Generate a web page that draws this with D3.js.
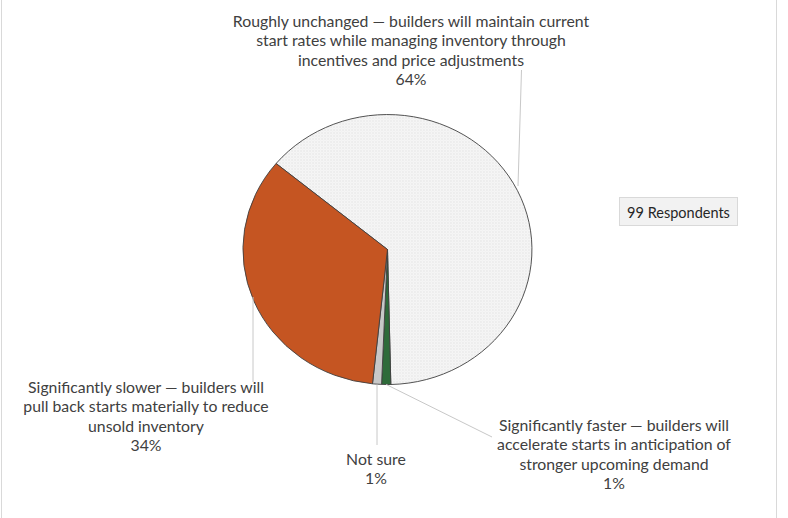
<!DOCTYPE html>
<html>
<head>
<meta charset="utf-8">
<script src="https://cdn.jsdelivr.net/npm/d3@7"></script>
<style>
  html, body { margin: 0; padding: 0; background: #ffffff; }
  svg { display: block; }
</style>
</head>
<body>
<svg id="chart" width="788" height="518"></svg>
<script>
// ---- Data ----
const categories = [
  "Roughly unchanged — builders will maintain current start rates while managing inventory through incentives and price adjustments",
  "Significantly faster — builders will accelerate starts in anticipation of stronger upcoming demand",
  "Not sure",
  "Significantly slower — builders will pull back starts materially to reduce unsold inventory"
];
const counts = [63, 1, 1, 34];
const percentLabels = ["64%", "1%", "1%", "34%"];
const labelLines = [
  ["Roughly unchanged — builders will maintain current", "start rates while managing inventory through", "incentives and price adjustments"],
  ["Significantly faster — builders will", "accelerate starts in anticipation of", "stronger upcoming demand"],
  ["Not sure"],
  ["Significantly slower — builders will", "pull back starts materially to reduce", "unsold inventory"]
];
const respondentsNote = "99 Respondents";

// ---- Layout ----
const svg = d3.select("#chart");
const cx = 387.5, cy = 249.5, rx = 144.5, ry = 135;
const colors = ["url(#dots)", "#2e6b3a", "#c8c8c8", "#c55522"];
const textColor = "#404040";
const fontFamily = "Lato, 'Open Sans', sans-serif";

// chart frame (left/right edges)
svg.append("line").attr("x1", 1.5).attr("x2", 1.5).attr("y1", 0).attr("y2", 518)
  .attr("stroke", "#d9d9d9").attr("stroke-width", 1);
svg.append("line").attr("x1", 776.5).attr("x2", 776.5).attr("y1", 0).attr("y2", 518)
  .attr("stroke", "#d9d9d9").attr("stroke-width", 1);

// pattern (tile defined in screen pixels, compensating the group scale)
const defs = svg.append("defs");
const pat = defs.append("pattern").attr("id", "dots").attr("patternUnits", "userSpaceOnUse")
  .attr("width", 3).attr("height", 3)
  .attr("patternTransform", `scale(${1 / rx},${1 / ry})`);
pat.append("rect").attr("width", 3).attr("height", 3).attr("fill", "#f8f8f8");
pat.append("rect").attr("x", 0).attr("y", 0).attr("width", 1).attr("height", 1).attr("fill", "#d4d4d4");
pat.append("rect").attr("x", 1.5).attr("y", 1.5).attr("width", 1).attr("height", 1).attr("fill", "#e0e0e0");

// pie
const startDeg = -50.4;
const start = startDeg * Math.PI / 180;
const pie = d3.pie().sort(null).value(d => d).startAngle(start).endAngle(start + 2 * Math.PI);
const arcs = pie(counts);
const arc = d3.arc().innerRadius(0).outerRadius(1);

const g = svg.append("g").attr("transform", `translate(${cx},${cy}) scale(${rx},${ry})`);
g.selectAll("path").data(arcs).join("path")
  .attr("d", arc)
  .attr("fill", (d, i) => colors[i])
  .attr("stroke", "#404040")
  .attr("stroke-width", 0.9)
  .attr("vector-effect", "non-scaling-stroke");

// leader lines and labels
const leaderColor = "#c8c8c8";
function edgePoint(angle) {
  return [cx + rx * Math.sin(angle), cy - ry * Math.cos(angle)];
}
const labelPos = [
  { x: 411, y: 20, end: [521.5, 70] },
  { x: 614, y: 424, end: [492, 437] },
  { x: 376, y: 458, end: [377, 445] },
  { x: 146, y: 386, end: [253, 382] }
];
const lineH = 19.6;

const leaderStarts = [
  [518, 186],
  edgePoint((arcs[1].startAngle + arcs[1].endAngle) / 2),
  [377, 384.5],
  [253, 297]
];

leaderStarts.forEach((s, i) => {
  svg.append("line")
    .attr("x1", s[0]).attr("y1", s[1])
    .attr("x2", labelPos[i].end[0]).attr("y2", labelPos[i].end[1])
    .attr("stroke", leaderColor).attr("stroke-width", 1);
});

labelLines.forEach((lines, i) => {
  const all = lines.concat([percentLabels[i]]);
  const t = svg.append("text")
    .attr("font-family", fontFamily)
    .attr("font-size", 15.8)
    .attr("fill", textColor)
    .attr("text-anchor", "middle");
  all.forEach((ln, j) => {
    t.append("tspan")
      .attr("x", labelPos[i].x)
      .attr("y", labelPos[i].y + j * lineH)
      .attr("dominant-baseline", "central")
      .text(ln);
  });
});

// respondents box
svg.append("rect").attr("x", 619.5).attr("y", 197.5).attr("width", 118).attr("height", 28)
  .attr("fill", "#f2f2f2").attr("stroke", "#d9d9d9").attr("stroke-width", 1);
svg.append("text").attr("x", 678.5).attr("y", 212)
  .attr("text-anchor", "middle").attr("dominant-baseline", "central")
  .attr("font-family", fontFamily).attr("font-size", 14.5).attr("fill", "#262626")
  .text(respondentsNote);
</script>
</body>
</html>
